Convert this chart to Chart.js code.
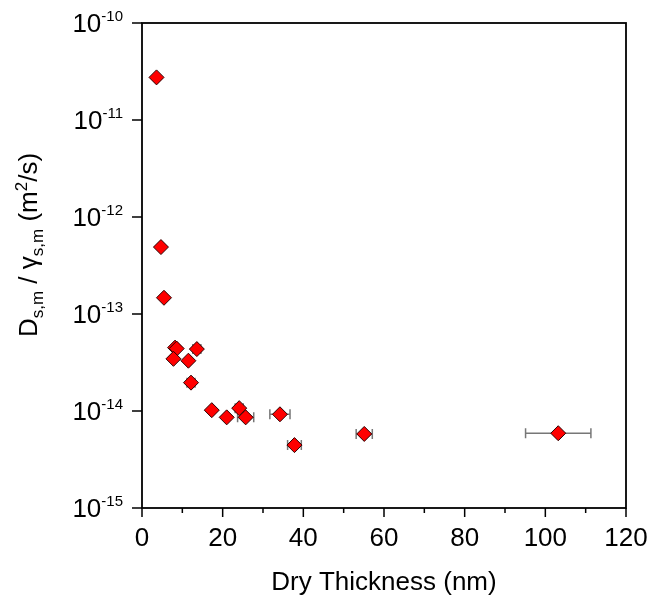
<!DOCTYPE html>
<html>
<head>
<meta charset="utf-8">
<script src="https://cdn.jsdelivr.net/npm/chart.js@4.4.1/dist/chart.umd.min.js"></script>
<style>
  html, body { margin: 0; padding: 0; background: #fff; }
  #chart { display: block; }
</style>
</head>
<body>
<canvas id="chart" width="652" height="602"></canvas>
<script>
// --- datos ---
const thickness = [3.6, 4.7, 5.45, 8.2, 8.6, 7.8, 11.5, 13.6, 12.15, 17.3, 21.0, 24.1, 25.7, 34.2, 37.8, 55.1, 103.2];
const diffusivity = [2.75e-11, 4.9e-13, 1.47e-13, 4.5e-14, 4.4e-14, 3.45e-14, 3.3e-14, 4.35e-14, 1.96e-14,
                     1.02e-14, 8.6e-15, 1.07e-14, 8.6e-15, 9.25e-15, 4.45e-15, 5.8e-15, 5.9e-15];
const thicknessErr = [0, 0, 0, 0, 0, 0, 0, 1.0, 1.0, 0, 0, 1.0, 2.0, 2.5, 1.7, 2.0, 8.1];

const xTickLabels = [0, 20, 40, 60, 80, 100, 120];
const xMinorTicks = [10, 30, 50, 70, 90, 110];
const yTickExponents = [-10, -11, -12, -13, -14, -15];

const FONT = '"Liberation Sans", Arial, sans-serif';

// barras de error horizontales, detrás de los marcadores
const errorBars = {
    id: 'errorBars',
    beforeDatasetsDraw(chart) {
        const ctx = chart.ctx;
        const xs = chart.scales.x, ys = chart.scales.y;
        ctx.save();
        ctx.strokeStyle = '#777';
        ctx.lineWidth = 1.5;
        thickness.forEach((t, i) => {
            const e = thicknessErr[i];
            if (!e) return;
            const x1 = xs.getPixelForValue(t - e);
            const x2 = xs.getPixelForValue(t + e);
            const py = ys.getPixelForValue(diffusivity[i]);
            ctx.beginPath();
            ctx.moveTo(x1, py); ctx.lineTo(x2, py);
            ctx.moveTo(x1, py - 5); ctx.lineTo(x1, py + 5);
            ctx.moveTo(x2, py - 5); ctx.lineTo(x2, py + 5);
            ctx.stroke();
        });
        ctx.restore();
    }
};

// ejes estilo Origin: marco, ticks, etiquetas con superíndice
const originAxes = {
    id: 'originAxes',
    afterDraw(chart) {
        const ctx = chart.ctx;
        const xs = chart.scales.x, ys = chart.scales.y;
        const a = chart.chartArea;
        ctx.save();
        ctx.strokeStyle = '#000';
        ctx.fillStyle = '#000';
        ctx.lineWidth = 1.8;
        ctx.strokeRect(a.left, a.top, a.right - a.left, a.bottom - a.top);

        ctx.lineWidth = 1.5;
        ctx.beginPath();
        xTickLabels.forEach(v => {
            const px = xs.getPixelForValue(v);
            ctx.moveTo(px, a.bottom); ctx.lineTo(px, a.bottom + 9);
        });
        xMinorTicks.forEach(v => {
            const px = xs.getPixelForValue(v);
            ctx.moveTo(px, a.bottom); ctx.lineTo(px, a.bottom + 5);
        });
        yTickExponents.forEach(exp => {
            const py = ys.getPixelForValue(Math.pow(10, exp));
            ctx.moveTo(a.left - 10, py); ctx.lineTo(a.left, py);
            if (exp > -10) {
                for (let m = 2; m <= 9; m++) {
                    const pm = ys.getPixelForValue(m * Math.pow(10, exp));
                    ctx.moveTo(a.left - 5, pm); ctx.lineTo(a.left, pm);
                }
            }
        });
        ctx.stroke();

        // etiquetas del eje x
        ctx.font = '26px ' + FONT;
        ctx.textAlign = 'center';
        ctx.textBaseline = 'alphabetic';
        xTickLabels.forEach(v => {
            ctx.fillText(String(v), xs.getPixelForValue(v), a.bottom + 38);
        });

        // etiquetas del eje y: 10^n
        yTickExponents.forEach(exp => {
            const py = ys.getPixelForValue(Math.pow(10, exp));
            const sup = String(exp);
            ctx.font = '15px ' + FONT;
            const supW = ctx.measureText(sup).width;
            const supX = a.left - 19 - supW;
            ctx.textAlign = 'left';
            ctx.fillText(sup, supX, py - 2);
            ctx.font = '26px ' + FONT;
            ctx.textAlign = 'right';
            ctx.fillText('10', supX, py + 9);
        });

        // título eje x
        ctx.font = '26px ' + FONT;
        ctx.textAlign = 'center';
        ctx.fillText('Dry Thickness (nm)', (a.left + a.right) / 2, a.bottom + 82);

        // título eje y con subíndices
        const parts = [
            { t: 'D', s: 0 }, { t: 's,m', s: 1 }, { t: ' / γ', s: 0 }, { t: 's,m', s: 1 },
            { t: ' (m', s: 0 }, { t: '2', s: -1 }, { t: '/s)', s: 0 }
        ];
        const fontFor = p => (p.s === 0 ? '26px ' : '17px ') + FONT;
        let total = 0;
        parts.forEach(p => { ctx.font = fontFor(p); p.w = ctx.measureText(p.t).width; total += p.w; });
        ctx.translate(37, 245);
        ctx.rotate(-Math.PI / 2);
        ctx.textAlign = 'left';
        let cx = -total / 2;
        parts.forEach(p => {
            ctx.font = fontFor(p);
            const dy = p.s === 1 ? 6 : (p.s === -1 ? -10 : 0);
            ctx.fillText(p.t, cx, dy);
            cx += p.w;
        });
        ctx.restore();
    }
};

const ctx = document.getElementById('chart').getContext('2d');
new Chart(ctx, {
    type: 'scatter',
    data: {
        datasets: [{
            label: 'Ds,m / γs,m',
            data: thickness.map((t, i) => ({ x: t, y: diffusivity[i] })),
            pointStyle: 'rectRot',
            pointRadius: 7.5,
            pointHoverRadius: 7.5,
            backgroundColor: '#ff0000',
            borderColor: '#2a0000',
            borderWidth: 1
        }]
    },
    options: {
        responsive: false,
        animation: false,
        layout: { padding: { left: 142, right: 26, top: 23, bottom: 94 } },
        plugins: { legend: { display: false }, tooltip: { enabled: false } },
        scales: {
            x: { type: 'linear', min: 0, max: 120, display: false },
            y: { type: 'logarithmic', min: 1e-15, max: 1e-10, display: false }
        }
    },
    plugins: [errorBars, originAxes]
});
</script>
</body>
</html>
